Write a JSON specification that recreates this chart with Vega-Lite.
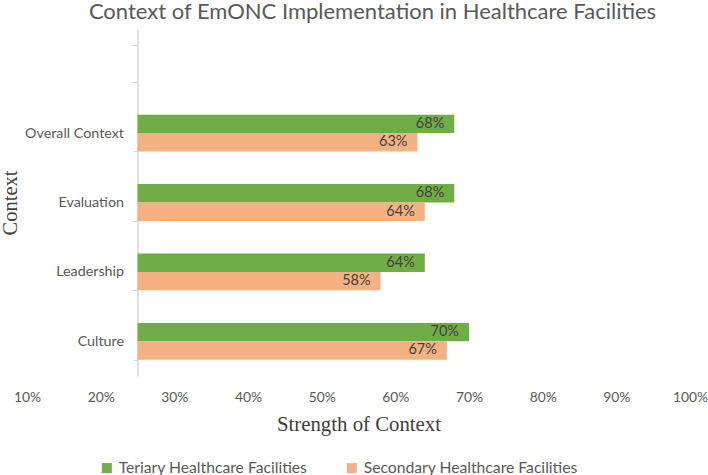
{
  "$schema": "https://vega.github.io/schema/vega-lite/v6.json",
  "width": 663,
  "height": 347,
  "autosize": {"type": "none"},
  "padding": {"left": 27, "top": 29, "right": 18, "bottom": 99},
  "background": "white",
  "config": {"view": {"stroke": null}, "font": "Lato"},
  "title": {
    "text": "Context of EmONC Implementation in Healthcare Facilities",
    "font": "Lato",
    "fontSize": 22,
    "fontWeight": "normal",
    "color": "#595959",
    "anchor": "middle",
    "offset": -2,
    "dx": 14
  },
  "data": {
    "values": [
      {"Context": "Overall Context", "Facility": "Teriary Healthcare Facilities", "Value": 0.68},
      {"Context": "Overall Context", "Facility": "Secondary Healthcare Facilities", "Value": 0.63},
      {"Context": "Evaluation", "Facility": "Teriary Healthcare Facilities", "Value": 0.68},
      {"Context": "Evaluation", "Facility": "Secondary Healthcare Facilities", "Value": 0.64},
      {"Context": "Leadership", "Facility": "Teriary Healthcare Facilities", "Value": 0.64},
      {"Context": "Leadership", "Facility": "Secondary Healthcare Facilities", "Value": 0.58},
      {"Context": "Culture", "Facility": "Teriary Healthcare Facilities", "Value": 0.70},
      {"Context": "Culture", "Facility": "Secondary Healthcare Facilities", "Value": 0.67}
    ]
  },
  "encoding": {
    "y": {
      "field": "Context",
      "type": "nominal",
      "scale": {"domain": [" ", "Overall Context", "Evaluation", "Leadership", "Culture"], "paddingInner": 0.47, "paddingOuter": 0.235},
      "axis": {
        "offset": -110.5,
        "title": "Context",
        "titleFont": "Liberation Serif",
        "titleFontSize": 20.5,
        "titleFontWeight": "normal",
        "titleColor": "#404040",
        "titleAngle": -90,
        "titleX": -127,
        "titleY": 173.5,
        "titleAlign": "center",
        "titleBaseline": "middle",
        "domainColor": "#d9d9d9",
        "domainWidth": 1.5,
        "tickColor": "#d9d9d9",
        "tickSize": 5,
        "tickBand": "extent",
        "labelFont": "Lato",
        "labelFontSize": 14.3,
        "labelColor": "#595959",
        "labelPadding": 9
      }
    },
    "yOffset": {
      "field": "Facility",
      "type": "nominal",
      "sort": ["Teriary Healthcare Facilities", "Secondary Healthcare Facilities"]
    }
  },
  "layer": [
    {
      "mark": {"type": "bar"},
      "encoding": {
        "x": {
          "field": "Value",
          "type": "quantitative",
          "scale": {"domain": [0.1, 1.0], "nice": false, "zero": false},
          "axis": {
            "values": [0.1, 0.2, 0.3, 0.4, 0.5, 0.6, 0.7, 0.8, 0.9, 1.0],
            "format": ".0%",
            "domain": false,
            "ticks": false,
            "grid": false,
            "labelFlush": false,
            "labelPadding": 14,
            "labelFont": "Lato",
            "labelFontSize": 13.8,
            "labelColor": "#595959",
            "title": "Strength of Context",
            "titleFont": "Liberation Serif",
            "titleFontSize": 20.8,
            "titleFontWeight": "normal",
            "titleColor": "#404040",
            "titlePadding": 11
          }
        },
        "x2": {"datum": 0.25},
        "color": {
          "field": "Facility",
          "type": "nominal",
          "scale": {"domain": ["Teriary Healthcare Facilities", "Secondary Healthcare Facilities"], "range": ["#70AD47", "#F4B183"]},
          "legend": {
            "title": null,
            "orient": "none",
            "direction": "horizontal",
            "legendX": 72,
            "legendY": 431,
            "symbolType": "square",
            "symbolSize": 100,
            "symbolStrokeWidth": 0,
            "labelFont": "Lato",
            "labelFontSize": 15.7,
            "labelColor": "#595959",
            "labelLimit": 0,
            "columnPadding": 36,
            "labelOffset": 4
          }
        }
      }
    },
    {
      "mark": {"type": "text", "align": "right", "baseline": "middle", "dx": -10, "font": "Lato", "fontSize": 14.5, "fontWeight": "normal", "color": "#404040"},
      "encoding": {
        "x": {"field": "Value", "type": "quantitative"},
        "text": {"field": "Value", "type": "quantitative", "format": ".0%"}
      }
    }
  ]
}
